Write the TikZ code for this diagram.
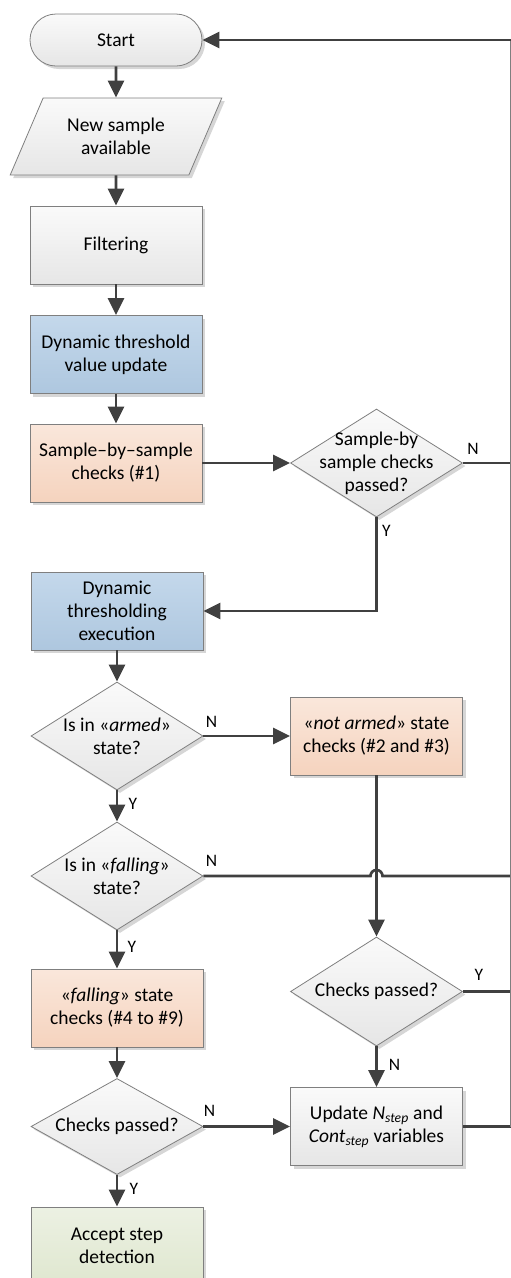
\documentclass[tikz,border=0pt]{standalone}
\usepackage{fontspec}
\setmainfont{Carlito}
\usetikzlibrary{arrows.meta, shapes.geometric, shadows, calc}
\definecolor{edgegray}{HTML}{7F7F7F}
\definecolor{arrowgray}{HTML}{404040}
\definecolor{grayt}{HTML}{FAFAFA}
\definecolor{grayb}{HTML}{E6E6E6}
\definecolor{bluet}{HTML}{C4D8EB}
\definecolor{blueb}{HTML}{AEC7DF}
\definecolor{peacht}{HTML}{FAE7DB}
\definecolor{peachb}{HTML}{F5D3BE}
\definecolor{greent}{HTML}{ECF1E3}
\definecolor{greenb}{HTML}{DFE7CF}

\begin{document}
\begin{tikzpicture}[x=1pt, y=-1pt]
	\tikzstyle{every node} = [font=\fontsize{19.5}{23}\selectfont, align=center]
	\tikzstyle{flowshape} = [draw=edgegray, line width=0.8pt, inner sep=0pt, top color=grayt, bottom color=grayb, drop shadow={shadow xshift=3pt, shadow yshift=-3pt, fill=black!16, opacity=1}]
	\tikzstyle{box} = [flowshape, rectangle, minimum width=172pt, minimum height=78pt]
	\tikzstyle{bluebox} = [box, top color=bluet, bottom color=blueb]
	\tikzstyle{peachbox} = [box, top color=peacht, bottom color=peachb]
	\tikzstyle{greenbox} = [box, top color=greent, bottom color=greenb]
	\tikzstyle{term} = [flowshape, rectangle, rounded corners=26pt, minimum width=172pt, minimum height=52pt]
	\tikzstyle{io} = [flowshape, trapezium, trapezium left angle=59, trapezium right angle=121, trapezium stretches=true, minimum width=212pt, minimum height=77pt]
	\tikzstyle{dia} = [flowshape, diamond, minimum width=172pt, minimum height=108pt]
	\tikzstyle{lbl} = [font=\fontsize{17.5}{20}\selectfont, inner sep=0pt]
	\tikzstyle{conn} = [draw=arrowgray, line width=2.7pt, -{Triangle[length=17pt, width=16pt]}]
	\tikzstyle{line} = [draw=arrowgray, line width=2.7pt]
	\tikzstyle{railline} = [draw=edgegray, line width=1.2pt]
	\useasboundingbox (0,0) rectangle (511,1278);

	% left column
	\node[term] (start) at (116,40) {Start};
	\node[io] (input) at (116,136.5) {New sample\\available};
	\node[box] (filt) at (116,245) {Filtering};
	\node[bluebox] (thrupd) at (116,354.5) {Dynamic threshold\\value update};
	\node[peachbox] (sbs) at (116,463) {Sample–by–sample\\checks (\#1)};
	\node[bluebox] (dte) at (117,611) {Dynamic\\thresholding\\execution};
	\node[dia, label=center:{Is in «\emph{armed}»\\state?}] (armed) at (117,736) {};
	\node[dia, label=center:{Is in «\emph{falling}»\\state?}] (fall) at (117,876) {};
	\node[peachbox] (fchk) at (117,1008) {«\emph{falling}» state\\checks (\#4 to \#9)};
	\node[dia, minimum height=96pt, label=center:{Checks passed?}] (cpL) at (117,1126.5) {};
	\node[greenbox] (accept) at (117,1246) {Accept step\\detection};

	% right column
	\node[dia, label=center:{Sample-by\\sample checks\\passed?}] (cp0) at (376.5,463) {};
	\node[peachbox] (notarm) at (376.5,736) {«\emph{not armed}» state\\checks (\#2 and \#3)};
	\node[dia, minimum height=109pt, label=center:{Checks passed?}] (cpR) at (376.5,991.5) {};
	\node[box] (upd) at (376.5,1126.5) {Update \emph{N\textsubscript{step}} and\\\emph{Cont\textsubscript{step}} variables};
	\coordinate (rail) at (510.5,0);

	% Y / N labels
	\node[lbl] (n0) at ($(cp0.east)+(10,-14)$) {N}; \node[lbl] (y0) at ($(cp0.south)+(10,13)$) {Y};
	\node[lbl] (n1) at ($(armed.east)+(8,-14)$) {N}; \node[lbl] (y1) at ($(armed.south)+(16,13)$) {Y};
	\node[lbl] (n2) at ($(fall.east)+(8,-15)$) {N}; \node[lbl] (y2) at ($(fall.south)+(15,16)$) {Y};
	\node[lbl] (y3) at ($(cpR.east)+(16,-17)$) {Y}; \node[lbl] (n3) at ($(cpR.south)+(18,18)$) {N};
	\node[lbl] (n4) at ($(cpL.east)+(6,-16)$) {N}; \node[lbl] (y4) at ($(cpL.south)+(17,14)$) {Y};

	% connectors
	\draw[conn] (start) -- (input); \draw[conn] (input) -- (filt); \draw[conn] (filt) -- (thrupd); \draw[conn] (thrupd) -- (sbs);
	\draw[conn] (sbs.east) -- (cp0.west); \draw[line] (cp0.east) -- (cp0.east -| rail); \draw[conn] (cp0.south) |- (dte.east);
	\draw[conn] (dte) -- (armed); \draw[conn] (armed.east) -- (armed.east -| notarm.west); \draw[conn] (armed) -- (fall);
	\draw[line] (fall.east) -- ($(fall.east -| notarm.south)+(-6,0)$) arc[start angle=180, end angle=0, radius=6pt] -- (fall.east -| rail);
	\draw[conn] (notarm) -- (cpR); \draw[line] (cpR.east) -- (cpR.east -| rail); \draw[conn] (cpR) -- (upd);
	\draw[conn] (fall) -- (fchk); \draw[conn] (fchk) -- (cpL); \draw[conn] (cpL.east) -- (cpL.east -| upd.west); \draw[conn] (cpL) -- (accept);
	\draw[line] (upd.east) -- (upd.east -| rail); \draw[railline] (upd.east -| rail) -- (start.east -| rail);
	\draw[conn] (start.east -| rail) -- (start.east);
\end{tikzpicture}
\end{document}
